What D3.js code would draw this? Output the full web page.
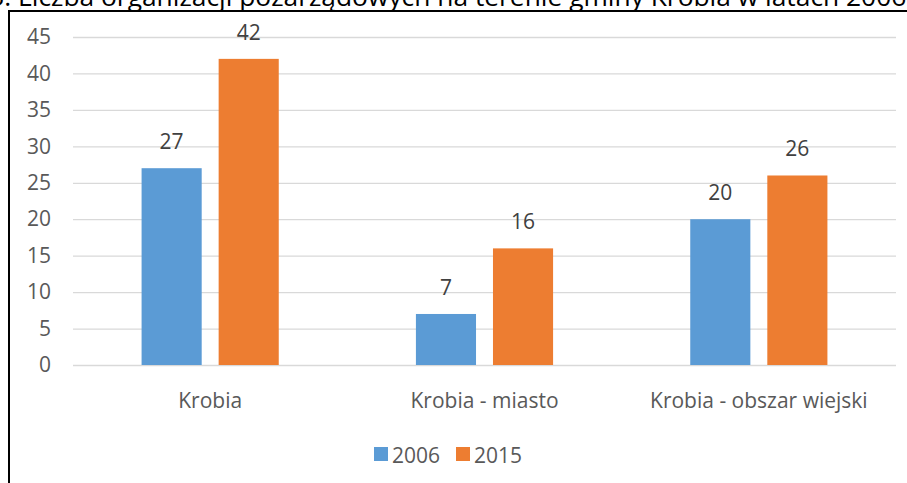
<!DOCTYPE html>
<html>
<head>
<meta charset="utf-8">
<script src="https://cdn.jsdelivr.net/npm/d3@7"></script>
<style>
	body { margin: 0; background: #fff; }
	svg { display: block; font-family: 'Open Sans', sans-serif; }
</style>
</head>
<body>
<div class="chart"></div>
<script>
// data
const categories = ['Krobia', 'Krobia - miasto', 'Krobia - obszar wiejski']
const seriesNames = ['2006', '2015']
const values2006 = [27, 7, 20]
const values2015 = [42, 16, 26]
const yTicks = [0, 5, 10, 15, 20, 25, 30, 35, 40, 45]
const titlePrefix = 'Wykres 3. '
const titleMain = 'Liczba organizacji pozarządowych na terenie gminy Krobia w latach 2006'
const titleRest = ' i 2015'

const colors = ['#5b9bd5', '#ed7d31']
const W = 907, H = 483
const plot = { left: 73, right: 896, top: 37, bottom: 365 }

const rows = categories.map((c, i) => ({ cat: c, vals: [values2006[i], values2015[i]] }))

const svg = d3.select('.chart')
	.append('svg')
	.attr('width', W)
	.attr('height', H)

// frame around the chart (runs off the page on the right and bottom)
svg.append('rect')
	.attr('x', 9)
	.attr('y', 11)
	.attr('width', 1000)
	.attr('height', 1000)
	.attr('fill', 'none')
	.attr('stroke', '#000')
	.attr('stroke-width', 2)

// title, cut off by the top edge as in the scan
const title = svg.append('text')
	.attr('y', 6)
	.attr('font-size', 20)
	.attr('fill', '#000')
const tPre = title.append('tspan').text(titlePrefix)
const tMain = title.append('tspan').text(titleMain)
title.append('tspan').text(titleRest)
// size so that the visible part spans from x=18 to the right edge
const fs = 20 * (W - 18) / tMain.node().getComputedTextLength()
title.attr('font-size', fs)
title.attr('x', 18 - tPre.node().getComputedTextLength())

var xScale = d3.scaleBand()
	.domain(categories)
	.range([plot.left, plot.right])
	.paddingInner(0.5)
	.paddingOuter(0.25)

var x1 = d3.scaleBand()
	.domain(seriesNames)
	.range([0, xScale.bandwidth()])
	.paddingInner(0.22)

var yScale = d3.scaleLinear()
	.domain([0, 45])
	.range([plot.bottom, plot.top])

// gridlines + y labels
var yAxis = d3.axisLeft(yScale)
	.tickValues(yTicks)
	.tickSize(-(plot.right - plot.left))
	.tickPadding(22)

svg.append('g')
	.attr('class', 'axis y-axis')
	.attr('transform', `translate(${plot.left},0)`)
	.call(yAxis)
	.call(g => g.select('.domain').remove())
	.call(g => g.selectAll('line').attr('stroke', '#d9d9d9').attr('stroke-width', 1.3))
	.call(g => g.selectAll('text')
		.attr('font-size', 21)
		.attr('fill', '#595959')
		.attr('font-family', "'Open Sans', sans-serif"))

// bars
var groups = svg.append('g')
	.selectAll('g')
	.data(rows)
	.join('g')
	.attr('transform', d => `translate(${xScale(d.cat)},0)`)

groups.selectAll('rect')
	.data(d => d.vals.map((v, i) => ({ key: seriesNames[i], v, i })))
	.join('rect')
	.attr('x', d => x1(d.key))
	.attr('width', x1.bandwidth())
	.attr('y', d => yScale(d.v))
	.attr('height', d => yScale(0) - yScale(d.v))
	.attr('fill', d => colors[d.i])

groups.selectAll('text.val')
	.data(d => d.vals.map((v, i) => ({ key: seriesNames[i], v, i })))
	.join('text')
	.attr('class', 'val')
	.attr('x', d => x1(d.key) + x1.bandwidth() / 2)
	.attr('y', d => yScale(d.v) - 19)
	.attr('text-anchor', 'middle')
	.attr('font-size', 21)
	.attr('fill', '#404040')
	.text(d => d.v)

// category labels
var xAxis = d3.axisBottom(xScale).tickSize(0).tickPadding(0)
svg.append('g')
	.attr('class', 'axis x-axis')
	.attr('transform', `translate(0,${plot.bottom})`)
	.call(xAxis)
	.call(g => g.select('.domain').remove())
	.call(g => g.selectAll('text')
		.attr('dy', null)
		.attr('y', 43)
		.attr('font-size', 21)
		.attr('fill', '#595959')
		.attr('font-family', "'Open Sans', sans-serif"))

// legend
var legend = svg.append('g').attr('transform', 'translate(374,447)')
var item = legend.selectAll('g')
	.data(seriesNames)
	.join('g')
	.attr('transform', (d, i) => `translate(${i * 82},0)`)
item.append('rect')
	.attr('width', 14)
	.attr('height', 14)
	.attr('fill', (d, i) => colors[i])
item.append('text')
	.attr('x', 18)
	.attr('y', 16)
	.attr('font-size', 21)
	.attr('fill', '#595959')
	.text(d => d)
</script>
</body>
</html>
